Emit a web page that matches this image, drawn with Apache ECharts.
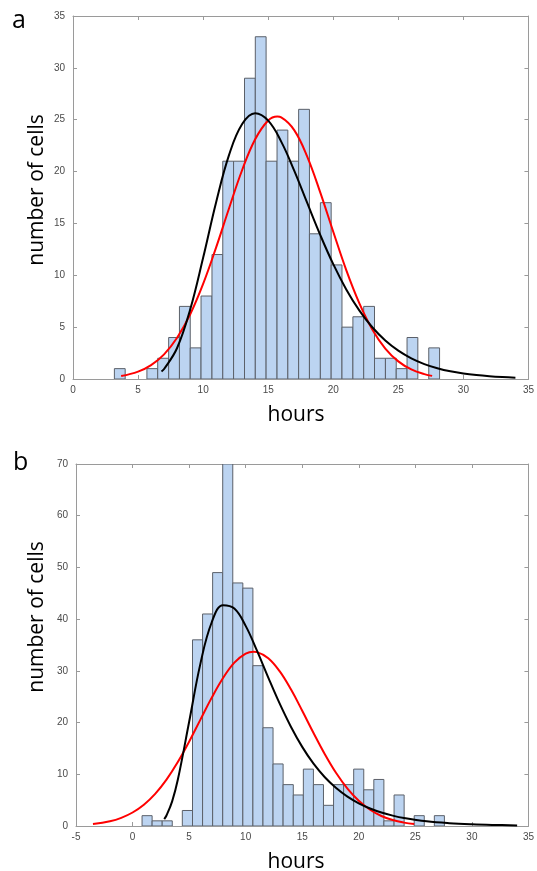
<!DOCTYPE html>
<html>
<head>
<meta charset="utf-8">
<script src="https://cdn.jsdelivr.net/npm/echarts@6/dist/echarts.min.js"></script>
<style>
html,body{margin:0;padding:0;background:#fff;}
#chart{width:537px;height:871px;}
</style>
</head>
<body>
<div id="chart"></div>
<script>
// ---------- Panel a data ----------
const binEdgesA = [3.18,4.01,4.85,5.68,6.51,7.35,8.18,9.01,9.84,10.68,11.51,12.34,13.18,14.01,14.84,15.68,16.51,17.34,18.17,19.01,19.84,20.67,21.51,22.34,23.17,24.01,24.84,25.67,26.50,27.34,28.17];
const countsA = [1,0,0,1,2,4,7,3,8,12,21,21,29,33,21,24,21,26,14,17,11,5,6,7,2,2,1,4,0,3];
const redAx = [3.7,5,6,7,8,9,10,11,12,13,14,15,15.7,16,17,18,19,20,21,22,23,24,25,26,27,27.6];
const redAy = [0.28,0.71,1.34,2.38,3.97,6.22,9.17,12.69,16.49,20.15,23.11,24.92,25.3,25.23,24.0,21.45,18.0,14.2,10.5,7.32,4.78,2.94,1.70,0.92,0.47,0.30];
const blackAx = [6.8,7,8,9,10,11,12,13,14,15,16,17,18,19,20,21,22,23,24,25,26,27,28,29,30,31,32,33,34];
const blackAy = [0.72,0.96,2.99,6.68,11.69,17.05,21.63,24.58,25.62,24.91,22.89,20.09,16.97,13.89,11.07,8.64,6.62,4.99,3.71,2.73,1.99,1.44,1.04,0.74,0.53,0.38,0.27,0.19,0.13];
const xTicksA = {min:0, max:35, interval:5};
const yTicksA = {min:0, max:35, interval:5};

// ---------- Panel b data ----------
const binEdgesB = [0.84,1.73,2.62,3.51,4.40,5.30,6.19,7.08,7.97,8.86,9.75,10.64,11.53,12.42,13.31,14.21,15.10,15.99,16.88,17.77,18.66,19.55,20.44,21.33,22.22,23.12,24.01,24.90,25.79,26.68,27.57];
const countsB = [2,1,1,0,3,36,41,49,70,47,46,31,19,12,8,6,11,8,4,8,8,11,7,9,1,6,0,2,0,2];
const redBx = [-3.5,-2,-1,0,1,2,3,4,5,6,7,8,9,10,10.7,11,12,13,14,15,16,17,18,19,20,21,22,23,24,24.9];
const redBy = [0.37,0.92,1.58,2.61,4.11,6.21,8.96,12.36,16.3,20.57,24.82,28.63,31.6,33.33,33.7,33.63,32.45,29.94,26.42,22.29,17.99,13.88,10.24,7.23,4.88,3.15,1.94,1.15,0.65,0.37];
const blackBx = [2.8,3,3.5,4,5,6,7,8,9,10,11,12,13,14,15,16,17,18,19,20,21,22,23,24,26,28,30,32,34];
const blackBy = [1.32,2.03,4.77,8.93,20.1,31.4,39.4,42.7,42.05,38.7,33.9,28.7,23.7,19.2,15.3,12.05,9.43,7.34,5.68,4.39,3.39,2.61,2.01,1.55,0.92,0.55,0.33,0.20,0.12];
const xTicksB = {min:-5, max:35, interval:5};
const yTicksB = {min:0, max:70, interval:10};

const panelLetters = ['a','b'];
const xTitle = 'hours';
const yTitle = 'number of cells';

// ---------- build ----------
const AX = '#9a9a9a';
const LBL = '#4a4a4a';
const BAR_FILL = '#bcd4f1';
const BAR_EDGE = '#5b6069';

function histData(edges, counts){
  return counts.map((c,i)=>[edges[i], edges[i+1], c]);
}
function pairs(xs, ys){ return xs.map((x,i)=>[x, ys[i]]); }

function renderBar(params, api){
  const y = api.value(2);
  if (!y) return null;
  const p0 = api.coord([api.value(0), y]);
  const p1 = api.coord([api.value(1), 0]);
  return {
    type:'rect',
    shape:{x:p0[0], y:p0[1], width:p1[0]-p0[0], height:p1[1]-p0[1]},
    style:{fill:BAR_FILL, stroke:BAR_EDGE, lineWidth:1}
  };
}

function xAxes(gi, t){
  const base = {type:'value', gridIndex:gi, min:t.min, max:t.max, interval:t.interval,
    splitLine:{show:false},
    axisLine:{show:true, onZero:false, lineStyle:{color:AX, width:1}},
    axisTick:{show:true, inside:true, length:4, lineStyle:{color:AX}}};
  return [
    Object.assign({}, base, {position:'bottom',
      axisLabel:{show:true, color:LBL, fontSize:10, fontFamily:'Liberation Sans, Arial, sans-serif', margin:6}}),
    Object.assign({}, base, {position:'top', axisLabel:{show:false}})
  ];
}
function yAxes(gi, t){
  const base = {type:'value', gridIndex:gi, min:t.min, max:t.max, interval:t.interval,
    splitLine:{show:false},
    axisLine:{show:true, onZero:false, lineStyle:{color:AX, width:1}},
    axisTick:{show:true, inside:true, length:4, lineStyle:{color:AX}}};
  return [
    Object.assign({}, base, {position:'left',
      axisLabel:{show:true, color:LBL, fontSize:10, fontFamily:'Liberation Sans, Arial, sans-serif', margin:8}}),
    Object.assign({}, base, {position:'right', axisLabel:{show:false}})
  ];
}

const chart = echarts.init(document.getElementById('chart'), null, {renderer:'canvas'});
const TITLE_FONT = '"Open Sans", "Noto Sans", sans-serif';

const option = {
  animation:false,
  backgroundColor:'#ffffff',
  grid:[
    {left:73, top:16, width:459, height:363},
    {left:76, top:464, width:460, height:362}
  ],
  xAxis:[...xAxes(0, xTicksA), ...xAxes(1, xTicksB)],
  yAxis:[...yAxes(0, yTicksA), ...yAxes(1, yTicksB)],
  series:[
    {type:'custom', xAxisIndex:0, yAxisIndex:0, renderItem:renderBar, data:histData(binEdgesA, countsA), encode:{x:[0,1], y:2}, clip:true, z:1},
    {type:'line', xAxisIndex:0, yAxisIndex:0, data:pairs(redAx, redAy), smooth:0.4, showSymbol:false, lineStyle:{color:'#ff0000', width:2}, z:3},
    {type:'line', xAxisIndex:0, yAxisIndex:0, data:pairs(blackAx, blackAy), smooth:0.4, showSymbol:false, lineStyle:{color:'#000000', width:2}, z:4},
    {type:'custom', xAxisIndex:2, yAxisIndex:2, renderItem:renderBar, data:histData(binEdgesB, countsB), encode:{x:[0,1], y:2}, clip:true, z:1},
    {type:'line', xAxisIndex:2, yAxisIndex:2, data:pairs(redBx, redBy), smooth:0.4, showSymbol:false, lineStyle:{color:'#ff0000', width:2}, z:3},
    {type:'line', xAxisIndex:2, yAxisIndex:2, data:pairs(blackBx, blackBy), smooth:0.4, showSymbol:false, lineStyle:{color:'#000000', width:2}, z:4}
  ],
  graphic:[
    {type:'text', left:null, x:12, y:8, style:{text:panelLetters[0], fontSize:25, fontFamily:TITLE_FONT, fill:'#000'}},
    {type:'text', x:13, y:450, style:{text:panelLetters[1], fontSize:25, fontFamily:TITLE_FONT, fill:'#000'}},
    {type:'text', x:296, y:415, style:{text:xTitle, fontSize:21, fontFamily:TITLE_FONT, fill:'#000', align:'center', verticalAlign:'middle'}},
    {type:'text', x:296, y:862, style:{text:xTitle, fontSize:21, fontFamily:TITLE_FONT, fill:'#000', align:'center', verticalAlign:'middle'}},
    {type:'text', x:37, y:190, rotation:Math.PI/2, style:{text:yTitle, fontSize:21, fontFamily:TITLE_FONT, fill:'#000', align:'center', verticalAlign:'middle'}},
    {type:'text', x:37, y:617, rotation:Math.PI/2, style:{text:yTitle, fontSize:21, fontFamily:TITLE_FONT, fill:'#000', align:'center', verticalAlign:'middle'}}
  ]
};
chart.setOption(option);
</script>
</body>
</html>
